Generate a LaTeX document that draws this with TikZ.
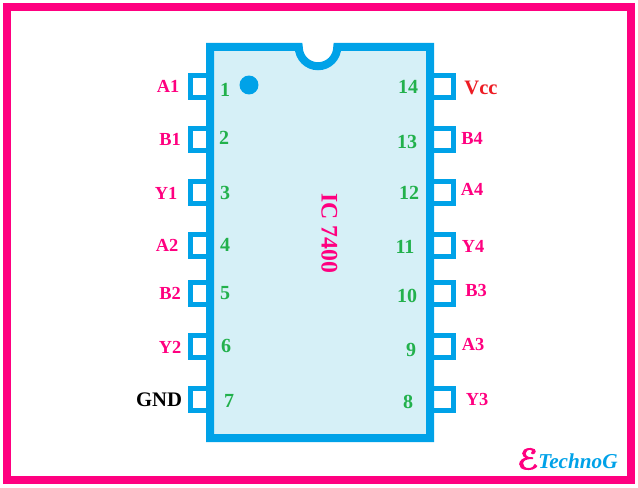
\documentclass[tikz,border=0pt]{standalone}
\usepackage{fontspec}
\setmainfont{Liberation Serif}
\newfontfamily\logofont[FakeBold=3.5,FakeStretch=1.25]{DejaVu Sans}
\definecolor{framepink}{HTML}{FF0080}
\definecolor{chipblue}{HTML}{00A2E8}
\definecolor{chipfill}{HTML}{D6F0F7}
\definecolor{pingreen}{HTML}{22B14C}
\definecolor{vccred}{HTML}{ED1C24}
\tikzset{
  framebox/.style={draw=framepink,line width=6pt,fill=white},
  chipbody/.style={draw=chipblue,line width=6pt,fill=chipfill,miter limit=10},
  pinbox/.style={draw=chipblue,line width=3.6pt,fill=white},
  pinname/.style={inner sep=0pt,yshift=-0.6pt,text=framepink,font=\fontsize{13.8pt}{15pt}\selectfont\bfseries},
  pinnum/.style={inner sep=0pt,yshift=-0.5pt,text=pingreen,font=\fontsize{15pt}{17pt}\selectfont\bfseries},
}
\begin{document}
\begin{tikzpicture}[x=0.75pt,y=-0.75pt]
\useasboundingbox (0,0) rectangle (638,488);
\fill[white] (0,0) rectangle (638,488);
\draw[framebox] (7,7) rectangle (631,480);
% pins
\foreach \t in {73,126,179,232,280,333,386}{
  \draw[pinbox] (190.4,\t+2.4) rectangle (212,\t+24.6);
  \draw[pinbox] (428,\t+2.4) rectangle (453.6,\t+24.6);
}
% body
\draw[chipbody] (210,47) -- (298.75,47) arc[start angle=180,end angle=360,radius=14.44pt] -- (430,47) -- (430,438) -- (210,438) -- cycle;
\fill[chipblue] (249,85) circle[radius=7.1pt];
% left names
\node[pinname] (a1) at (168,86) {A1};
\node[pinname] (b1) at (170,139) {B1};
\node[pinname] (y1) at (166,193) {Y1};
\node[pinname] (a2) at (167,245) {A2};
\node[pinname] (b2) at (170,293) {B2};
\node[pinname] (y2) at (170,347) {Y2};
\node[pinname,text=black,font=\fontsize{15.5pt}{17pt}\selectfont\bfseries] (gnd) at (159,399) {GND};
% right names
\node[pinname,text=vccred,font=\fontsize{15.4pt}{17pt}\selectfont\bfseries] (vcc) at (481,87) {Vcc};
\node[pinname] (b4) at (472,138) {B4};
\node[pinname] (a4) at (472,189) {A4};
\node[pinname] (y4) at (473,246) {Y4};
\node[pinname] (b3) at (476,290) {B3};
\node[pinname] (a3) at (473,344) {A3};
\node[pinname] (y3) at (477,399) {Y3};
% numbers
\node[pinnum] (n1) at (225,89) {1};
\node[pinnum] (n2) at (224,137) {2};
\node[pinnum] (n3) at (225,192) {3};
\node[pinnum] (n4) at (225,244) {4};
\node[pinnum] (n5) at (225,292) {5};
\node[pinnum] (n6) at (226,345) {6};
\node[pinnum] (n7) at (229,400) {7};
\node[pinnum] (n14) at (408,86) {14};
\node[pinnum] (n13) at (407,141) {13};
\node[pinnum] (n12) at (409,192) {12};
\node[pinnum] (n11) at (405,246) {11};
\node[pinnum] (n10) at (407,295) {10};
\node[pinnum] (n9) at (411,349) {9};
\node[pinnum] (n8) at (408,401) {8};
% title
\node[inner sep=0pt,text=framepink,rotate=-90,font=\fontsize{17.8pt}{20pt}\selectfont\bfseries] (title) at (329.5,233.5) {IC 7400};
% logo
\node[inner sep=0pt,text=framepink,font=\fontsize{21pt}{26pt}\logofont] (logoe) at (527.5,459) {ℰ};
\node[inner sep=0pt,text=chipblue,anchor=base west,font=\fontsize{15.9pt}{18pt}\selectfont\bfseries\itshape] (logot) at (538,468) {TechnoG};
\end{tikzpicture}
\end{document}
